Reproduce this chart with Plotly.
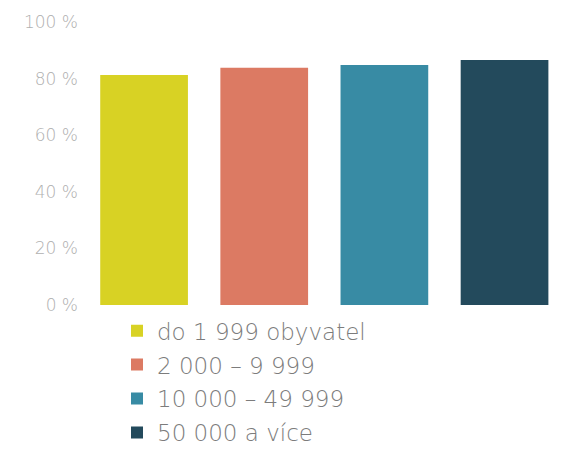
import plotly.graph_objects as go

categories = ["do 1 999 obyvatel", "2 000 – 9 999", "10 000 – 49 999", "50 000 a více"]
values = [81.3, 83.8, 84.8, 86.6]
colors = ["#d8d224", "#dc7a63", "#388ba4", "#234a5c"]
tick_vals = [0, 20, 40, 60, 80, 100]
tick_text = ["0 %", "20 %", "40 %", "60 %", "80 %", "100 %"]

fig = go.Figure()
for i, (name, v, c) in enumerate(zip(categories, values, colors)):
    fig.add_trace(go.Bar(
        x=[i], y=[v], name=name, marker=dict(color=c, line=dict(width=0)),
        width=0.73, legendgroup=f"g{i}", hoverinfo="name+y",
    ))

fig.update_layout(
    width=561, height=459,
    margin=dict(l=76, r=14, t=14, b=162),
    paper_bgcolor="white", plot_bgcolor="white",
    barmode="overlay",
    font=dict(family="'DejaVu Sans', sans-serif", color="#8a8a8a", weight=200),
    xaxis=dict(range=[-0.5, 3.42], showticklabels=False, showgrid=False,
               zeroline=False, showline=False, ticks="", automargin=False),
    yaxis=dict(range=[0, 100], tickvals=tick_vals, ticktext=tick_text,
               showgrid=False, zeroline=False, showline=False, automargin=False,
               tickfont=dict(size=17, color="#b0b0b0", weight=200), ticklabelstandoff=5),
    legend=dict(x=33 / 471, y=-0.015, xanchor="left", yanchor="top",
                orientation="v", traceorder="grouped", tracegroupgap=1,
                font=dict(size=23, color="#7c7c7c", weight=200), bgcolor="rgba(0,0,0,0)"),
    showlegend=True,
)

fig.write_html("out.html")
